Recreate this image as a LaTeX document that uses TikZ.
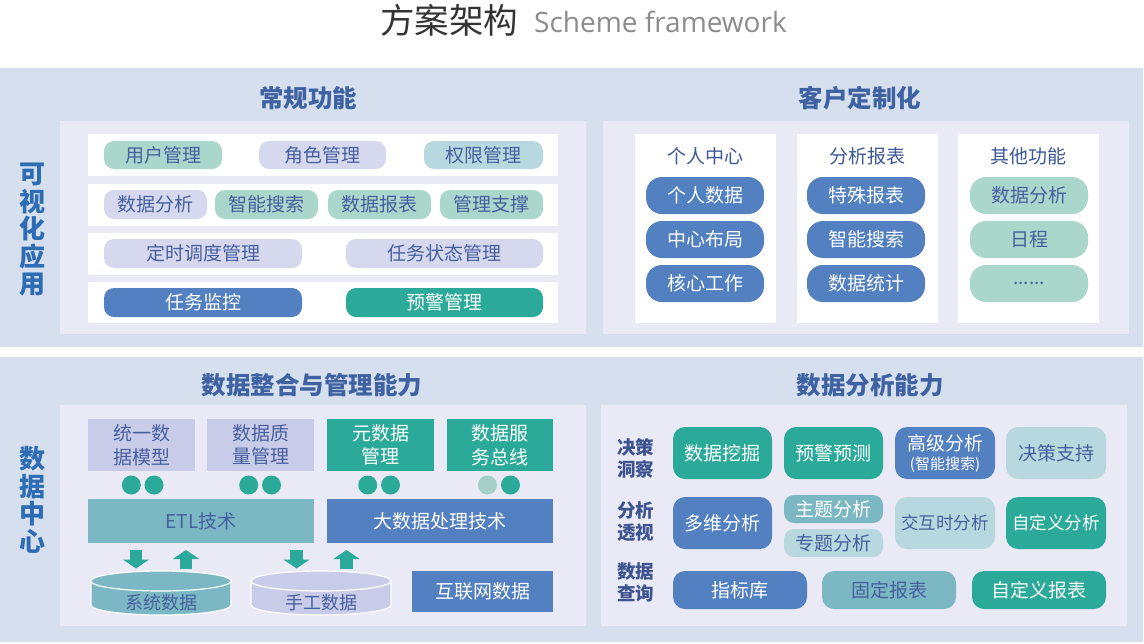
\documentclass[tikz,border=0pt]{standalone}
\usepackage{fontspec}
\setmainfont{Noto Sans CJK SC}
\newfontfamily\latf{Open Sans}
\usetikzlibrary{arrows.meta}
\definecolor{bandc}{HTML}{D6DFEE}
\definecolor{panelc}{HTML}{EAEAF6}
\definecolor{bluec}{HTML}{5280C1}
\definecolor{tealc}{HTML}{2BAA99}
\definecolor{greenl}{HTML}{ABD6CC}
\definecolor{lavl}{HTML}{D6D8EE}
\definecolor{lav2}{HTML}{C9CCE8}
\definecolor{cyanl}{HTML}{B8D8DF}
\definecolor{cyanm}{HTML}{7BB8C3}
\definecolor{dotl}{HTML}{A3CFC6}
\definecolor{dtext}{HTML}{46609F}
\definecolor{titlec}{HTML}{3F62A2}
\definecolor{sidec}{HTML}{2E6DB4}
\definecolor{headc}{HTML}{3E5796}
\definecolor{rowc}{HTML}{3D5490}
\newcommand\mkbox[7]{\node[#1,anchor=north west,minimum width={(#5-#3)*1pt},minimum height={(#6-#4)*1pt}] (#2) at (#3,#4) {#7};}
\tikzset{
  bx/.style={inner sep=0pt, outer sep=0pt, align=center, font=\fontsize{19}{23.5}\selectfont},
  pill/.style={bx, rounded corners=10pt},
  rpill/.style={bx, rounded corners=16pt},
  rbox/.style={bx, rounded corners=12pt},
  sqbox/.style={bx},
  ondark/.style={text=white},
  onlight/.style={text=dtext},
  sect/.style={font=\fontsize{24.5}{28}\selectfont\bfseries, text=titlec, inner sep=0pt},
  side/.style={font=\fontsize{26}{27.5}\selectfont\bfseries, text=sidec, align=center, inner sep=0pt},
  head/.style={font=\fontsize{19}{23}\selectfont, text=headc, inner sep=0pt},
  rowlab/.style={font=\fontsize{18.5}{22}\selectfont\bfseries, text=rowc, align=center, inner sep=0pt},
  dot/.style={circle, fill=tealc, minimum size=19pt, inner sep=0pt},
  cylbody/.style={draw=white, line width=1.2pt},
  cyltxt/.style={font=\fontsize{18}{22}\selectfont, text=dtext, inner sep=0pt},
  blockarrow/.style={draw=tealc, line width=12.5pt, -{Triangle[width=26pt,length=9pt]}, color=tealc},
}
\begin{document}
\begin{tikzpicture}[x=1pt,y=-1pt]
\useasboundingbox (0,0) rectangle (1144,643);
\fill[white] (0,0) rectangle (1144,643);
% title
\node[anchor=west, inner sep=0pt, font=\fontsize{34.5}{37}\selectfont, text=black!80] (ttl) at (380,20) {方案架构};
\node[anchor=west, inner sep=0pt, font=\latf\fontsize{28}{31}\selectfont, text=black!45] (ttle) at (534,22) {Scheme framework};
% bands
\fill[bandc] (0,68) rectangle (1143,347);
\fill[bandc] (0,357) rectangle (1143,642);
% panels
\fill[panelc] (60,121) rectangle (586,334);
\fill[panelc] (603,121) rectangle (1129,334);
\fill[panelc] (60,405) rectangle (586,626);
\fill[panelc] (601,405) rectangle (1127,626);
% white strips
\fill[white] (88,134) rectangle (558,176);
\fill[white] (88,184) rectangle (558,226);
\fill[white] (88,233) rectangle (558,275);
\fill[white] (88,282) rectangle (558,323);
\fill[white] (635,134) rectangle (776,323);
\fill[white] (797,134) rectangle (938,323);
\fill[white] (958,134) rectangle (1099,323);
% section titles
\node[sect] (t1) at (308,98) {常规功能};
\node[sect] (t2) at (860,98) {客户定制化};
\node[sect] (t3) at (312,385) {数据整合与管理能力};
\node[sect] (t4) at (870,385) {数据分析能力};
% side labels
\node[side] (s1) at (32.5,230) {可\\视\\化\\应\\用};
\node[side] (s2) at (32.5,500) {数\\据\\中\\心};
% top-left pills
\mkbox{pill,fill=greenl,onlight}{p11}{104}{141}{222}{169}{用户管理}
\mkbox{pill,fill=lavl,onlight}{p12}{259}{141}{386}{169}{角色管理}
\mkbox{pill,fill=cyanl,onlight}{p13}{424}{141}{543}{169}{权限管理}
\mkbox{pill,fill=lavl,onlight}{p21}{104}{190}{207}{219}{数据分析}
\mkbox{pill,fill=greenl,onlight}{p22}{215}{190}{318}{219}{智能搜索}
\mkbox{pill,fill=greenl,onlight}{p23}{328}{190}{431}{219}{数据报表}
\mkbox{pill,fill=greenl,onlight}{p24}{440}{190}{543}{219}{管理支撑}
\mkbox{pill,fill=lavl,onlight}{p31}{104}{239}{302}{268}{定时调度管理}
\mkbox{pill,fill=lavl,onlight}{p32}{346}{239}{543}{268}{任务状态管理}
\mkbox{pill,fill=bluec,ondark}{p41}{104}{288}{302}{317}{任务监控}
\mkbox{pill,fill=tealc,ondark}{p42}{346}{288}{543}{317}{预警管理}
% customisation columns
\node[head] (h1) at (705.5,156) {个人中心};
\node[head] (h2) at (867.5,156) {分析报表};
\node[head] (h3) at (1028.5,156) {其他功能};
\mkbox{rpill,fill=bluec,ondark}{c11}{646}{177}{764}{214}{个人数据}
\mkbox{rpill,fill=bluec,ondark}{c12}{646}{221}{764}{258}{中心布局}
\mkbox{rpill,fill=bluec,ondark}{c13}{646}{265}{764}{302}{核心工作}
\mkbox{rpill,fill=bluec,ondark}{c21}{807}{177}{925}{214}{特殊报表}
\mkbox{rpill,fill=bluec,ondark}{c22}{807}{221}{925}{258}{智能搜索}
\mkbox{rpill,fill=bluec,ondark}{c23}{807}{265}{925}{302}{数据统计}
\mkbox{rpill,fill=greenl,onlight}{c31}{970}{177}{1088}{214}{数据分析}
\mkbox{rpill,fill=greenl,onlight}{c32}{970}{221}{1088}{258}{日程}
\mkbox{rpill,fill=greenl,onlight}{c33}{970}{265}{1088}{302}{......}
% data integration
\mkbox{sqbox,fill=lav2,onlight}{b1}{88}{419}{195}{471}{统一数\\据模型}
\mkbox{sqbox,fill=lav2,onlight}{b2}{207}{419}{314}{471}{数据质\\量管理}
\mkbox{sqbox,fill=tealc,ondark}{b3}{327}{419}{434}{471}{元数据\\管理}
\mkbox{sqbox,fill=tealc,ondark}{b4}{447}{419}{553}{471}{数据服\\务总线}
\node[dot] (d11) at (131.3,485) {};
\node[dot] (d12) at (154,485) {};
\node[dot] (d21) at (248.7,485) {};
\node[dot] (d22) at (271.5,485) {};
\node[dot] (d31) at (367.7,485) {};
\node[dot] (d32) at (390.5,485) {};
\node[dot, fill=dotl] (d41) at (487.5,485) {};
\node[dot] (d42) at (510.5,485) {};
\mkbox{sqbox,fill=cyanm,onlight}{etl}{88}{499}{314}{543}{ETL技术}
\mkbox{sqbox,fill=bluec,ondark}{big}{327}{499}{553}{543}{大数据处理技术}
\mkbox{sqbox,fill=bluec,ondark}{web}{412}{571}{553}{612}{互联网数据}
% block arrows
\coordinate (a1s) at (136,550); \coordinate (a1e) at (136,568.5);
\coordinate (a2s) at (186,568.5); \coordinate (a2e) at (186,550);
\coordinate (a3s) at (296.5,550); \coordinate (a3e) at (296.5,568.5);
\coordinate (a4s) at (346.5,568.5); \coordinate (a4e) at (346.5,550);
\draw[blockarrow] (a1s) -- (a1e);
\draw[blockarrow] (a2s) -- (a2e);
\draw[blockarrow] (a3s) -- (a3e);
\draw[blockarrow] (a4s) -- (a4e);
% cylinders
\filldraw[fill=cyanm, cylbody] (91,581) -- (91,605) arc[start angle=180,end angle=360,x radius=70pt,y radius=10pt] -- (231,581) -- cycle;
\filldraw[fill=cyanm, cylbody] (161,581) ellipse [x radius=70pt,y radius=10pt];
\node[cyltxt] (cyl1) at (161,603) {系统数据};
\filldraw[fill=lav2, cylbody] (251,581) -- (251,605) arc[start angle=180,end angle=360,x radius=70pt,y radius=10pt] -- (391,581) -- cycle;
\filldraw[fill=lav2, cylbody] (321,581) ellipse [x radius=70pt,y radius=10pt];
\node[cyltxt] (cyl2) at (321,603) {手工数据};
% data analysis
\node[rowlab] (r1) at (635.5,458) {决策\\洞察};
\node[rowlab] (r2) at (635.5,521.5) {分析\\透视};
\node[rowlab] (r3) at (635.5,582) {数据\\查询};
\mkbox{rbox,fill=tealc,ondark}{e11}{673}{427}{772}{479}{数据挖掘}
\mkbox{rbox,fill=tealc,ondark}{e12}{784}{427}{883}{479}{预警预测}
\mkbox{rbox,fill=bluec,ondark,font=\fontsize{19}{19}\selectfont}{e13}{895}{427}{995}{479}{高级分析\\{\fontsize{15}{17}\selectfont(智能搜索)}}
\mkbox{rbox,fill=cyanl,onlight}{e14}{1006}{427}{1106}{479}{决策支持}
\mkbox{rbox,fill=bluec,ondark}{e21}{673}{497}{772}{549}{多维分析}
\mkbox{rbox,rounded corners=10pt,fill=cyanm,ondark}{e22}{784}{495}{883}{523}{主题分析}
\mkbox{rbox,rounded corners=10pt,fill=cyanl,onlight}{e23}{784}{529}{883}{557}{专题分析}
\mkbox{rbox,fill=cyanl,onlight,font=\fontsize{17.5}{20}\selectfont}{e24}{895}{497}{995}{549}{交互时分析}
\mkbox{rbox,fill=tealc,ondark,font=\fontsize{17.5}{20}\selectfont}{e25}{1006}{497}{1106}{549}{自定义分析}
\mkbox{rbox,fill=bluec,ondark}{e31}{673}{571}{807}{609}{指标库}
\mkbox{rbox,fill=cyanm,onlight}{e32}{822}{571}{956}{609}{固定报表}
\mkbox{rbox,fill=tealc,ondark}{e33}{972}{571}{1106}{609}{自定义报表}
\end{tikzpicture}
\end{document}
